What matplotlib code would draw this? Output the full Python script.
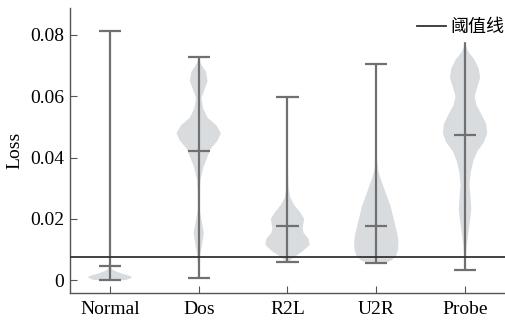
import numpy as np
import matplotlib.pyplot as plt

plt.rcParams['font.family'] = ['Liberation Serif', 'Noto Sans CJK SC', 'DejaVu Sans']

categories = ['Normal', 'Dos', 'R2L', 'U2R', 'Probe']
threshold = 0.0074

# summary values
mins = [0.0, 0.00075, 0.0060, 0.0057, 0.0033]
maxs = [0.0812, 0.0727, 0.0597, 0.0706, 0.0792]
medians = [0.0046, 0.0423, 0.0176, 0.0178, 0.0475]

# density outlines (loss level, relative half-width)
normal_y = [0.0, 0.0005, 0.001, 0.0015, 0.002, 0.0025, 0.003, 0.0035, 0.0045, 0.006, 0.01, 0.02, 0.0812]
normal_w = [0.7, 0.9, 1.0, 0.85, 0.6, 0.4, 0.22, 0.1, 0.04, 0.02, 0.01, 0.005, 0.0]
dos_y = [0.00075, 0.004, 0.008, 0.012, 0.0155, 0.019, 0.023, 0.028, 0.033, 0.037, 0.040, 0.043,
         0.0455, 0.048, 0.0505, 0.053, 0.056, 0.0595, 0.062, 0.065, 0.068, 0.0705, 0.0727]
dos_w = [0.0, 0.03, 0.06, 0.16, 0.23, 0.14, 0.04, 0.04, 0.08, 0.22, 0.38, 0.55,
         0.85, 1.0, 0.8, 0.4, 0.2, 0.12, 0.25, 0.4, 0.33, 0.1, 0.0]
r2l_y = [0.0060, 0.0075, 0.0095, 0.0115, 0.0135, 0.0155, 0.0170, 0.0185, 0.0200, 0.0220,
         0.0245, 0.0270, 0.030, 0.034, 0.040, 0.050, 0.0597]
r2l_w = [0.05, 0.3, 0.7, 1.0, 0.95, 0.72, 0.68, 0.72, 0.75, 0.58,
         0.3, 0.12, 0.05, 0.03, 0.01, 0.005, 0.0]
u2r_y = [0.0057, 0.0065, 0.0080, 0.0100, 0.0125, 0.015, 0.018, 0.021, 0.024, 0.027,
         0.030, 0.033, 0.036, 0.040, 0.050, 0.0706]
u2r_w = [0.45, 0.7, 0.9, 0.98, 1.0, 0.95, 0.85, 0.75, 0.65, 0.5,
         0.35, 0.2, 0.08, 0.02, 0.005, 0.0]
probe_y = [0.0033, 0.007, 0.011, 0.015, 0.019, 0.023, 0.027, 0.031, 0.035, 0.039, 0.042, 0.045,
           0.048, 0.051, 0.054, 0.057, 0.060, 0.063, 0.066, 0.069, 0.072, 0.0745, 0.0765, 0.0792]
probe_w = [0.0, 0.03, 0.07, 0.14, 0.22, 0.28, 0.25, 0.2, 0.25, 0.38, 0.55, 0.85,
           1.0, 0.95, 0.75, 0.52, 0.43, 0.55, 0.68, 0.62, 0.42, 0.15, 0.03, 0.0]

outlines = [(normal_y, normal_w), (dos_y, dos_w), (r2l_y, r2l_w), (u2r_y, u2r_w), (probe_y, probe_w)]

stats = []
for (ys, ws), lo, hi, med in zip(outlines, mins, maxs, medians):
    stats.append(dict(coords=np.array(ys), vals=np.array(ws), mean=med,
                      median=med, min=lo, max=hi))

fig = plt.figure(figsize=(5.05, 3.22), dpi=100)
ax = fig.add_axes([0.1386, 0.0901, 0.8614, 0.8850])

positions = np.arange(1, len(categories) + 1)
parts = ax.violin(stats, positions=positions, widths=0.5, showmedians=True)
for body in parts['bodies']:
    body.set_facecolor('#d9dcdf')
    body.set_edgecolor('none')
    body.set_alpha(1)
for key in ['cmins', 'cmaxes', 'cbars', 'cmedians']:
    parts[key].set_color('#707070')
    parts[key].set_linewidth(1.6)

ax.axhline(threshold, color='#333333', lw=1.3, label='阈值线', zorder=5)

ax.set_xlim(0.55, 5.45)
ax.set_ylim(-0.0042, 0.0888)
ax.set_xticks(positions)
ax.set_xticklabels(categories)
ax.set_yticks([0, 0.02, 0.04, 0.06, 0.08])
ax.set_yticklabels(['0', '0.02', '0.04', '0.06', '0.08'])
ax.set_ylabel('Loss', fontsize=14, labelpad=5)
ax.tick_params(axis='both', direction='in', length=5, color='#555555', labelsize=14)
ax.tick_params(axis='x', pad=6)
ax.tick_params(axis='y', pad=4)

for side in ['top', 'right']:
    ax.spines[side].set_visible(False)
for side in ['left', 'bottom']:
    ax.spines[side].set_color('#555555')
    ax.spines[side].set_linewidth(1.0)

leg = ax.legend(loc='upper right', bbox_to_anchor=(1.008, 0.98), borderaxespad=0,
                frameon=True, fancybox=False, handlelength=1.6, handletextpad=0.2,
                borderpad=0.25, prop={'family': ['Noto Sans CJK SC', 'DejaVu Sans'], 'size': 13})
leg.get_frame().set_facecolor('white')
leg.get_frame().set_edgecolor('white')
leg.get_frame().set_alpha(1)
leg.set_zorder(10)

fig.savefig('out.png', dpi=100)
